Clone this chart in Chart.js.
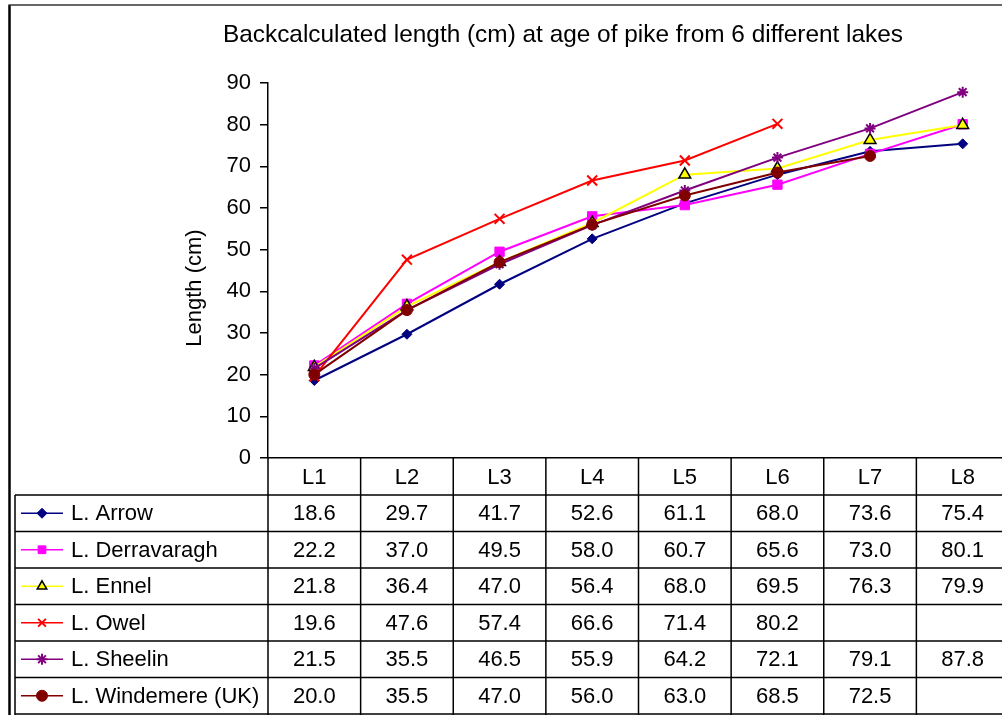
<!DOCTYPE html>
<html>
<head>
<meta charset="utf-8">
<script src="https://cdn.jsdelivr.net/npm/chart.js@4/dist/chart.umd.min.js"></script>
<style>
  html, body { margin: 0; padding: 0; background: #fff; overflow: hidden; width: 1002px; height: 715px; }
  #wrap { width: 1012px; height: 715px; position: relative; }
  canvas { display: block; width: 1012px; height: 715px; }
</style>
</head>
<body>
<div id="wrap"><canvas id="c" width="1012" height="715"></canvas></div>
<script>
// Back-calculated length (cm) at each age class, per lake
const categories = ['L1', 'L2', 'L3', 'L4', 'L5', 'L6', 'L7', 'L8'];
const lakeNames = ['L. Arrow', 'L. Derravaragh', 'L. Ennel', 'L. Owel', 'L. Sheelin', 'L. Windemere (UK)'];
const arrow       = [18.6, 29.7, 41.7, 52.6, 61.1, 68.0, 73.6, 75.4];
const derravaragh = [22.2, 37.0, 49.5, 58.0, 60.7, 65.6, 73.0, 80.1];
const ennel       = [21.8, 36.4, 47.0, 56.4, 68.0, 69.5, 76.3, 79.9];
const owel        = [19.6, 47.6, 57.4, 66.6, 71.4, 80.2, null, null];
const sheelin     = [21.5, 35.5, 46.5, 55.9, 64.2, 72.1, 79.1, 87.8];
const windemere   = [20.0, 35.5, 47.0, 56.0, 63.0, 68.5, 72.5, null];
const yMin = 0, yMax = 90, yStep = 10;

const chartTitle = 'Backcalculated length (cm) at age of pike from 6 different lakes';
const yTitle = 'Length (cm)';

const FONT = '"Liberation Sans", Arial, Helvetica, sans-serif';

// marker look for each lake
const styles = [
  { line: '#000080', fill: '#000080', edge: '#000080', shape: 'rectRot',  r: 5,   bw: 1 },
  { line: '#FF00FF', fill: '#FF00FF', edge: '#FF00FF', shape: 'rect',     r: 6.6, bw: 1 },
  { line: '#FFFF00', fill: '#FFFF00', edge: '#000000', shape: 'triangle', r: 6.8, bw: 1.5 },
  { line: '#FF0000', fill: '#FF0000', edge: '#FF0000', shape: 'crossRot', r: 7,   bw: 2 },
  { line: '#800080', fill: '#800080', edge: '#800080', shape: 'star',     r: 5.5, bw: 2 },
  { line: '#800000', fill: '#800000', edge: '#800000', shape: 'circle',   r: 5.5, bw: 1 }
];
const seriesValues = [arrow, derravaragh, ennel, owel, sheelin, windemere];

const datasets = seriesValues.map((vals, i) => ({
  label: lakeNames[i],
  data: vals,
  borderColor: styles[i].line,
  backgroundColor: styles[i].fill,
  borderWidth: 2,
  pointStyle: styles[i].shape,
  pointRadius: styles[i].r,
  pointHoverRadius: styles[i].r,
  pointBackgroundColor: styles[i].fill,
  pointBorderColor: styles[i].edge,
  pointBorderWidth: styles[i].bw,
  tension: 0,
  spanGaps: false,
  order: seriesValues.length - i   // later series drawn above earlier ones
}));

// title, frame and the data table below the plot
const tablePlugin = {
  id: 'dataTable',
  afterDraw(chart) {
    const ctx = chart.ctx;
    const area = chart.chartArea;
    const xs = chart.scales.x;
    const H = chart.height;
    const n = categories.length;
    const colW = xs.getPixelForValue(1) - xs.getPixelForValue(0);
    const headerTop = area.bottom;
    const headerBottom = 495;
    const legendLeft = 15;
    const rowH = (H - 1 - headerBottom) / lakeNames.length;

    ctx.save();
    // outer frame
    ctx.strokeStyle = '#000';
    ctx.lineWidth = 2.5;
    ctx.beginPath();
    ctx.moveTo(9.5, 5); ctx.lineTo(9.5, H);
    ctx.stroke();
    ctx.strokeStyle = '#333';
    ctx.lineWidth = 1.5;
    ctx.beginPath();
    ctx.moveTo(8.5, 5); ctx.lineTo(chart.width, 5);
    ctx.stroke();

    // chart title
    ctx.fillStyle = '#000';
    ctx.font = '24.4px ' + FONT;
    ctx.textAlign = 'center';
    ctx.textBaseline = 'alphabetic';
    ctx.fillText(chartTitle, 563, 41.5);

    // y axis title
    ctx.save();
    ctx.translate(200.5, 288);
    ctx.rotate(-Math.PI / 2);
    ctx.font = '22px ' + FONT;
    ctx.fillText(yTitle, 0, 0);
    ctx.restore();

    // table grid
    ctx.strokeStyle = '#000';
    ctx.lineWidth = 1.5;
    ctx.beginPath();
    for (let i = 0; i <= n; i++) {
      const x = xs.getPixelForValue(i) - colW / 2;
      ctx.moveTo(x, headerTop); ctx.lineTo(x, H);
    }
    ctx.moveTo(legendLeft, headerBottom); ctx.lineTo(legendLeft, H);
    for (let r = 0; r <= lakeNames.length; r++) {
      const y = headerBottom + r * rowH;
      ctx.moveTo(legendLeft, y); ctx.lineTo(chart.width, y);
    }
    ctx.stroke();

    // header labels
    ctx.font = '22px ' + FONT;
    ctx.textAlign = 'center';
    ctx.textBaseline = 'middle';
    const headerMid = (headerTop + headerBottom) / 2 + 1;
    categories.forEach((c, i) => ctx.fillText(c, xs.getPixelForValue(i), headerMid));

    // rows: legend key, name, values
    seriesValues.forEach((vals, r) => {
      const yMid = headerBottom + r * rowH + rowH / 2 + 1;
      const st = styles[r];
      ctx.strokeStyle = st.line;
      ctx.lineWidth = 1.5;
      ctx.beginPath();
      ctx.moveTo(21, yMid - 1); ctx.lineTo(63, yMid - 1);
      ctx.stroke();
      ctx.fillStyle = st.fill;
      ctx.strokeStyle = st.edge;
      ctx.lineWidth = st.bw;
      Chart.helpers.drawPoint(ctx, { pointStyle: st.shape, radius: Math.min(st.r, 5.5), rotation: 0, borderWidth: st.bw }, 42, yMid - 1);

      ctx.fillStyle = '#000';
      ctx.textAlign = 'left';
      ctx.fillText(lakeNames[r], 71, yMid);
      ctx.textAlign = 'center';
      vals.forEach((v, i) => {
        if (v === null) return;
        ctx.fillText(v.toFixed(1), xs.getPixelForValue(i), yMid);
      });
    });
    ctx.restore();
  }
};

new Chart(document.getElementById('c'), {
  type: 'line',
  data: { labels: categories, datasets },
  options: {
    responsive: false,
    devicePixelRatio: 1,
    animation: false,
    layout: { autoPadding: false, padding: { top: 83, right: 3, left: 0, bottom: 0 } },
    plugins: {
      legend: { display: false },
      title: { display: false },
      tooltip: { enabled: false }
    },
    scales: {
      x: {
        type: 'category',
        offset: true,
        grid: { display: false },
        border: { display: true, color: '#000', width: 1.5 },
        ticks: { display: false },
        afterFit(scale) { scale.height = 257; }
      },
      y: {
        min: yMin,
        max: yMax,
        ticks: {
          stepSize: yStep,
          color: '#000',
          font: { family: FONT, size: 22 },
          padding: 9
        },
        grid: { drawOnChartArea: false, drawTicks: true, tickLength: 8, color: '#000', lineWidth: 1.5 },
        border: { display: true, color: '#000', width: 1.5 },
        afterFit(scale) { scale.width = 268; }
      }
    }
  },
  plugins: [tablePlugin]
});
</script>
</body>
</html>
